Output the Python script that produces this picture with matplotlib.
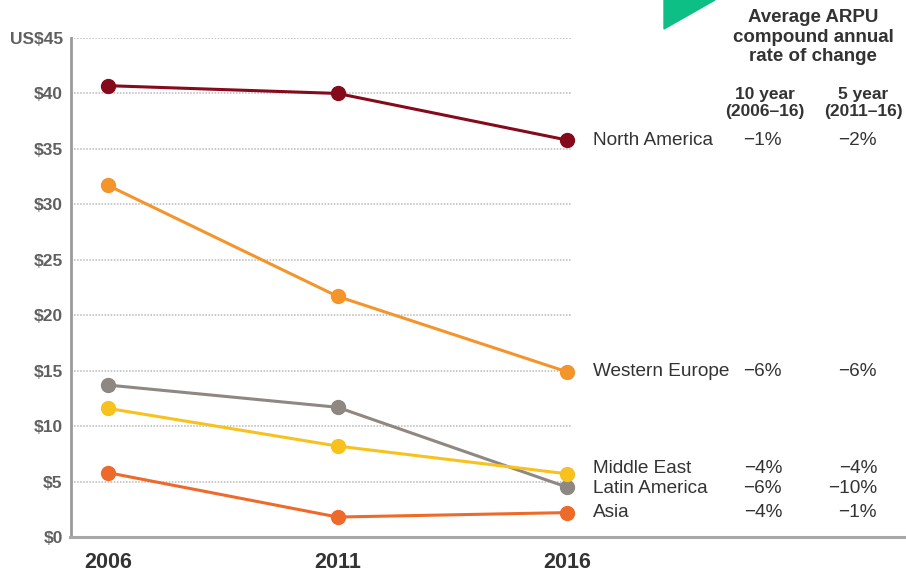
import matplotlib.pyplot as plt
import matplotlib.transforms as mtransforms
from matplotlib.lines import Line2D
from matplotlib.patches import Polygon

plt.rcParams['font.family'] = ['Liberation Sans', 'DejaVu Sans']

years = [2006, 2011, 2016]
regions = ["North America", "Western Europe", "Latin America", "Middle East", "Asia"]
arpu_na = [40.7, 40.0, 35.8]
arpu_we = [31.7, 21.7, 14.9]
arpu_la = [13.7, 11.7, 4.5]
arpu_me = [11.6, 8.2, 5.7]
arpu_asia = [5.8, 1.8, 2.2]
colors = ["#850a1c", "#f3952b", "#8e8782", "#f7c21d", "#ee6a2a"]
# labels drawn in this order (top to bottom on the right)
label_regions = ["North America", "Western Europe", "Middle East", "Latin America", "Asia"]
label_y = [35.8, 14.9, 6.2, 4.4, 2.2]
rate_10yr = ["\u22121%", "\u22126%", "\u22124%", "\u22126%", "\u22124%"]
rate_5yr = ["\u22122%", "\u22126%", "\u22124%", "\u221210%", "\u22121%"]
yticks = [0, 5, 10, 15, 20, 25, 30, 35, 40, 45]
ytick_labels = ["$0", "$5", "$10", "$15", "$20", "$25", "$30", "$35", "$40", "US$45"]

W, H = 906, 575
fig = plt.figure(figsize=(W / 100, H / 100), dpi=100)
ax = fig.add_axes([71 / W, 1 - 537 / H, (572 - 71) / W, (537 - 38) / H])

series = [arpu_na, arpu_we, arpu_la, arpu_me, arpu_asia]
for vals, c in zip(series, colors):
    ax.plot(years, vals, color=c, lw=2.2, marker="o", ms=10, clip_on=False, zorder=3)

ax.set_xlim(2005.19, 2016.11)
ax.set_ylim(0, 45)
ax.set_yticks(yticks)
ax.set_yticklabels(ytick_labels)
ax.set_xticks(years)
ax.set_xticklabels([str(y) for y in years])
ax.tick_params(axis="y", length=0, pad=6, labelsize=12.5, labelcolor="#606060")
ax.tick_params(axis="x", length=0, pad=11, labelsize=15.5, labelcolor="#333333")
for lbl in ax.get_yticklabels():
    lbl.set_fontweight("bold")
for lbl in ax.get_xticklabels():
    lbl.set_fontweight("bold")

ax.grid(axis="y", color="#b8b8b8", lw=1.1, linestyle=(0, (1, 1)))
ax.set_axisbelow(True)
for s in ["top", "right", "bottom"]:
    ax.spines[s].set_visible(False)
ax.spines["left"].set_color("#9a9a9a")
ax.spines["left"].set_linewidth(2)

# bottom axis line runs across to the right edge
fig.add_artist(Line2D([70 / W, 1.0], [1 - 537 / H, 1 - 537 / H], color="#a8a8a8", lw=2.2))

# right-side labels and rates
tr = mtransforms.blended_transform_factory(fig.transFigure, ax.transData)
for name, yv, r10, r5 in zip(label_regions, label_y, rate_10yr, rate_5yr):
    ax.text(593 / W, yv, name, transform=tr, ha="left", va="center", fontsize=13.7,
            color="#333333", clip_on=False)
    ax.text(782 / W, yv, r10, transform=tr, ha="right", va="center", fontsize=13.7,
            color="#333333", clip_on=False)
    ax.text(877 / W, yv, r5, transform=tr, ha="right", va="center", fontsize=13.7,
            color="#333333", clip_on=False)

fig.text(813 / W, 1 - 37 / H, "Average ARPU\ncompound annual\nrate of change", ha="center",
         va="center", fontsize=13.5, fontweight="bold", color="#333333", linespacing=1.2)
fig.text(765 / W, 1 - 103 / H, "10 year\n(2006\u201316)", ha="center", va="center",
         fontsize=12.5, fontweight="bold", color="#333333", linespacing=1.2)
fig.text(863 / W, 1 - 103 / H, "5 year\n(2011\u201316)", ha="center", va="center",
         fontsize=12.5, fontweight="bold", color="#333333", linespacing=1.2)

# green corner mark
fig.add_artist(Polygon([[664 / W, 1.0], [715 / W, 1.0], [664 / W, 1 - 29 / H]],
                       closed=True, color="#0dbf85", transform=fig.transFigure))

fig.savefig("out.png", dpi=100)
